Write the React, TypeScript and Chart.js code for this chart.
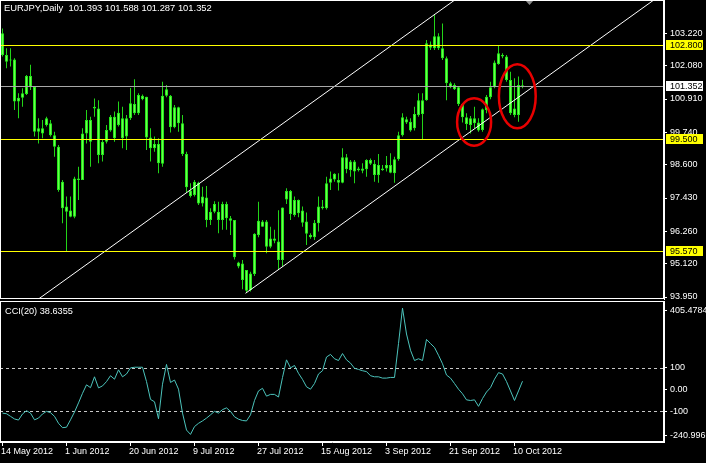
import React, { useEffect, useRef } from 'react';
import { Chart, registerables } from 'chart.js';

Chart.register(...registerables);

// ---------------- DATA ----------------
// Daily EURJPY bars, 14 May 2012 .. 12 Oct 2012 (broker with Sunday bars)
const opens = [
  103.22, 102.46, 102.26, 102.30, 100.82, 100.95, 101.09, 101.72, 101.34, 99.76,
  99.88, 100.00, 100.06, 99.64, 99.23, 98.00, 97.13, 96.99, 96.77, 98.12,
  98.06, 99.70, 100.17, 100.58, 100.58, 98.94, 99.41, 99.80, 100.29, 100.00,
  100.23, 99.59, 100.23, 100.73, 100.41, 101.02, 100.99, 99.56, 99.18, 99.33,
  98.63, 101.02, 101.02, 99.92, 100.62, 100.06, 98.98, 97.69, 97.54, 97.97,
  97.24, 97.45, 96.66, 96.95, 96.95, 96.66, 97.22, 96.72, 96.66, 95.16,
  95.13, 94.90, 94.20, 94.76, 96.13, 96.60, 96.60, 95.72, 96.01, 95.90,
  95.25, 97.38, 97.68, 96.83, 97.36, 96.99, 96.60, 96.13, 96.05, 96.54,
  97.13, 97.07, 97.97, 98.08, 98.06, 97.97, 98.86, 98.41, 98.71, 98.41,
  98.47, 98.44, 98.77, 98.63, 98.24, 98.47, 98.47, 98.59, 98.30, 98.79,
  99.64, 100.20, 100.11, 99.88, 100.35, 100.87, 100.87, 102.83, 102.69, 103.12,
  102.69, 102.34, 101.46, 101.40, 101.32, 100.73, 100.27, 100.00, 100.23, 100.08,
  99.82, 100.52, 100.97, 101.32, 102.14, 102.46, 102.40, 101.58, 100.58, 100.35,
  101.393,
];
const highs = [
  103.39, 102.69, 102.69, 102.34, 101.11, 101.29, 101.75, 102.11, 101.37, 100.23,
  100.17, 100.29, 100.17, 99.76, 99.29, 98.06, 97.48, 97.48, 98.18, 98.53,
  99.88, 100.52, 100.29, 100.93, 100.87, 99.47, 100.00, 100.35, 100.47, 100.82,
  100.64, 100.35, 101.30, 101.60, 101.11, 101.07, 100.99, 99.88, 99.59, 99.53,
  101.52, 101.40, 101.05, 100.70, 100.64, 100.35, 99.06, 97.95, 98.06, 98.00,
  97.83, 97.85, 97.07, 97.32, 97.30, 97.30, 97.30, 96.80, 96.66, 95.19,
  95.25, 94.90, 94.84, 96.19, 97.30, 96.66, 96.66, 96.42, 96.31, 97.00,
  97.10, 97.77, 97.71, 97.48, 97.38, 97.13, 96.92, 96.19, 96.66, 97.48,
  97.36, 98.18, 98.36, 98.30, 98.30, 99.18, 98.98, 98.77, 98.77, 98.53,
  98.65, 98.79, 98.82, 98.77, 98.98, 98.59, 98.91, 99.00, 98.88, 99.76,
  100.41, 100.29, 100.23, 100.64, 101.11, 101.11, 102.98, 102.93, 103.86, 103.22,
  103.56, 102.40, 101.52, 101.46, 101.37, 100.76, 100.41, 100.31, 100.64, 100.23,
  100.58, 101.05, 101.52, 102.26, 102.81, 102.52, 102.46, 101.87, 101.64, 101.70,
  101.588,
];
const lows = [
  102.40, 101.99, 102.05, 100.52, 100.23, 100.64, 101.05, 101.23, 99.59, 99.35,
  99.53, 99.94, 99.59, 98.88, 97.65, 96.54, 95.54, 96.75, 96.72, 97.36,
  98.06, 99.35, 98.53, 100.29, 98.65, 98.71, 99.35, 99.76, 99.41, 99.94,
  99.18, 99.12, 100.17, 100.35, 100.35, 100.87, 99.12, 98.71, 99.06, 98.30,
  98.53, 100.97, 99.73, 99.88, 99.76, 98.91, 97.62, 97.45, 97.48, 97.18,
  97.13, 96.40, 96.48, 96.89, 96.19, 96.31, 96.31, 96.13, 95.27, 94.96,
  94.22, 94.10, 94.14, 94.69, 96.05, 96.42, 95.49, 95.66, 95.84, 94.90,
  95.02, 97.22, 96.66, 96.77, 96.75, 96.42, 95.78, 96.00, 95.95, 96.25,
  97.03, 97.03, 97.71, 98.00, 97.69, 97.95, 98.30, 98.18, 97.95, 98.36,
  98.30, 98.18, 98.59, 98.00, 97.97, 98.39, 98.36, 98.30, 97.97, 98.74,
  99.59, 100.03, 99.76, 99.80, 100.29, 99.47, 100.85, 102.63, 102.63, 102.63,
  102.28, 100.87, 101.29, 101.23, 100.66, 100.08, 99.82, 99.70, 99.88, 99.76,
  99.76, 100.41, 100.90, 101.29, 102.11, 102.34, 101.52, 100.35, 100.27, 100.11,
  101.287,
];
const closes = [
  102.46, 102.22, 102.30, 100.82, 100.95, 101.11, 101.72, 101.32, 99.76, 99.88,
  99.70, 100.23, 99.64, 99.23, 97.71, 97.07, 96.95, 96.77, 98.12, 98.06,
  99.70, 100.17, 99.41, 100.64, 98.94, 99.41, 99.82, 100.29, 99.53, 100.43,
  99.53, 100.23, 100.76, 100.41, 101.05, 100.90, 99.56, 99.18, 99.33, 98.65,
  101.02, 101.25, 99.92, 100.62, 100.06, 98.98, 97.81, 97.50, 98.00, 97.24,
  97.48, 96.66, 96.95, 97.22, 96.66, 97.22, 96.72, 96.63, 95.35, 95.02,
  94.55, 94.17, 94.78, 96.17, 96.63, 96.42, 95.72, 96.01, 95.93, 95.25,
  97.10, 97.68, 96.87, 97.36, 96.89, 96.56, 96.17, 96.05, 96.56, 97.13,
  97.07, 97.95, 98.12, 98.28, 97.97, 98.86, 98.44, 98.71, 98.36, 98.47,
  98.39, 98.77, 98.63, 98.24, 98.59, 98.41, 98.59, 98.32, 98.79, 99.64,
  100.27, 100.08, 99.80, 100.38, 100.87, 100.38, 102.87, 102.71, 103.12, 102.69,
  102.34, 101.46, 101.32, 101.25, 100.73, 100.27, 100.03, 100.23, 100.06, 99.80,
  100.55, 100.99, 101.32, 102.19, 102.52, 102.40, 101.58, 100.41, 100.35, 101.40,
  101.352,
];
// CCI(20) value of each bar
const cciValues = [
  -108, -111, -123, -135, -140, -112, -97, -108, -139, -131,
  -112, -100, -106, -123, -155, -175, -173, -139, -103, -61,
  -17, 22, 9, 59, 8, 17, 37, 64, 48, 91,
  59, 72, 100, 103, 103, 103, 37, -45, -56, -134,
  25, 116, 33, 44, 2, -108, -186, -206, -170, -155,
  -144, -131, -116, -100, -108, -92, -84, -100, -125, -136,
  -142, -144, -116, -50, -6, 6, -30, -22, -22, -34,
  56, 137, 100, 111, 75, 47, 13, 2, 28, 72,
  87, 150, 162, 142, 134, 166, 137, 122, 98, 93,
  87, 83, 64, 59, 59, 53, 53, 56, 56, 212,
  375, 256, 181, 134, 142, 134, 231, 212, 194, 158,
  119, 67, 53, 28, 2, -19, -47, -50, -47, -77,
  -41, -11, 9, 48, 78, 72, 37, -6, -50, -6,
  38.6355,
];
const dateTickBars = [0, 16, 32, 48, 64, 80, 96, 112, 128];
const dateLabels = ['14 May 2012', '1 Jun 2012', '20 Jun 2012', '9 Jul 2012', '27 Jul 2012', '15 Aug 2012', '3 Sep 2012', '21 Sep 2012', '10 Oct 2012'];
const priceTicks = [93.95, 95.12, 96.26, 97.43, 98.6, 99.74, 100.91, 102.08, 103.22];
const priceMin = 93.88;
const priceMax = 104.39;
const levelLines = [102.8, 99.5, 95.57];
const bidPrice = 101.352;
const cciMin = -240.996;
const cciMax = 405.4784;
const cciTickValues = [-212, -100, 0, 100, 363];
const cciTickLabels = ['-240.996', '-100', '0.00', '100', '405.4784'];
const cciLevels = [100, -100];
const upperChannel = [{ x: 9, y: 93.88 }, { x: 120, y: 105.09 }];
const lowerChannel = [{ x: 60.75, y: 94.08 }, { x: 165.5, y: 104.66 }];
const ellipses = [
  { x: 117.9, y: 100.1, rx: 4.25, ry: 0.833 },
  { x: 128.7, y: 101.01, rx: 4.6, ry: 1.125 },
];
const shiftMarkerBar = 131.75;
const titleText = 'EURJPY,Daily  101.393 101.588 101.287 101.352';
const cciTitle = 'CCI(20) 38.6355';

// ---------------- STYLE ----------------
const W = 706;
const H = 463;
const MAIN_H = 300;
const CCI_H = 163;
const AXIS_W = 42;
const X_MIN = -0.625;
const X_MAX = 165.375;
const FONT = "'Liberation Sans', Arial, sans-serif";
const WICK = '#22d418';
const BODY_BORDER = '#22e61a';
const BODY_FILL = '#6cff4c';
const YELLOW = '#ffff00';

function frame(chart: any) {
  const { ctx, chartArea: a } = chart;
  ctx.save();
  ctx.strokeStyle = '#ffffff';
  ctx.lineWidth = 1;
  ctx.strokeRect(Math.floor(a.left) + 0.5, Math.floor(a.top) + 0.5, Math.round(a.right - a.left) - 1, Math.round(a.bottom - a.top) - 1);
  ctx.restore();
}

const mainPlugin = {
  id: 'mt4Main',
  afterDatasetsDraw(chart: any) {
    const { ctx, chartArea: a, scales } = chart;
    const x = scales.x;
    const y = scales.y;
    ctx.save();
    ctx.beginPath();
    ctx.rect(a.left, a.top, a.right - a.left, a.bottom - a.top);
    ctx.clip();
    ctx.setLineDash([]);
    ctx.lineWidth = 1;
    ctx.strokeStyle = '#a8a8a8';
    let py = Math.round(y.getPixelForValue(bidPrice)) + 0.5;
    ctx.beginPath();
    ctx.moveTo(a.left, py);
    ctx.lineTo(a.right, py);
    ctx.stroke();
    for (const lv of levelLines) {
      py = Math.round(y.getPixelForValue(lv));
      ctx.fillStyle = YELLOW;
      ctx.fillRect(a.left, py, a.right - a.left, 1);
    }
    ctx.strokeStyle = '#e80000';
    ctx.lineWidth = 2.5;
    for (const e of ellipses) {
      const cx = x.getPixelForValue(e.x);
      const cy = y.getPixelForValue(e.y);
      const rx = Math.abs(x.getPixelForValue(e.x + e.rx) - cx);
      const ry = Math.abs(y.getPixelForValue(e.y + e.ry) - cy);
      ctx.beginPath();
      ctx.ellipse(cx, cy, rx, ry, 0, 0, Math.PI * 2);
      ctx.stroke();
    }
    // shift marker
    const sx = x.getPixelForValue(shiftMarkerBar);
    ctx.fillStyle = '#8c8c8c';
    ctx.beginPath();
    ctx.moveTo(sx - 4.5, a.top);
    ctx.lineTo(sx + 4.5, a.top);
    ctx.lineTo(sx, a.top + 5);
    ctx.closePath();
    ctx.fill();
    ctx.restore();
  },
  afterDraw(chart: any) {
    const { ctx, chartArea: a, scales } = chart;
    const y = scales.y;
    frame(chart);
    ctx.save();
    ctx.font = `9px ${FONT}`;
    ctx.textBaseline = 'middle';
    ctx.textAlign = 'left';
    const box = (v: number, bg: string) => {
      const py = Math.round(y.getPixelForValue(v));
      ctx.fillStyle = bg;
      ctx.fillRect(a.right + 2, py - 5, 37, 10);
      ctx.fillStyle = '#000000';
      ctx.fillText(v.toFixed(3), a.right + 6, py + 0.5);
    };
    for (const lv of levelLines) box(lv, YELLOW);
    box(bidPrice, '#ffffff');
    ctx.fillStyle = '#ffffff';
    ctx.font = `9.4px ${FONT}`;
    ctx.fillText(titleText, 4, 8.5);
    ctx.restore();
  },
};

const cciPlugin = {
  id: 'mt4Cci',
  beforeDatasetsDraw(chart: any) {
    const { ctx, chartArea: a, scales } = chart;
    const y = scales.y;
    ctx.save();
    ctx.strokeStyle = '#c8c8c8';
    ctx.lineWidth = 1;
    ctx.setLineDash([3, 3]);
    for (const lv of cciLevels) {
      const py = Math.round(y.getPixelForValue(lv)) + 0.5;
      ctx.beginPath();
      ctx.moveTo(a.left, py);
      ctx.lineTo(a.right, py);
      ctx.stroke();
    }
    ctx.restore();
  },
  afterDraw(chart: any) {
    const { ctx } = chart;
    frame(chart);
    ctx.save();
    ctx.font = `9.2px ${FONT}`;
    ctx.textBaseline = 'middle';
    ctx.fillStyle = '#ffffff';
    ctx.fillText(cciTitle, 5, 11.5);
    ctx.restore();
  },
};

const tickFont = { family: FONT, size: 9 };

function mainConfig(): any {
  const idx = opens.map((_, i) => i);
  return {
    type: 'bar',
    data: {
      datasets: [
        {
          type: 'line',
          data: upperChannel,
          borderColor: '#ffffff',
          borderWidth: 1,
          pointRadius: 0,
          order: 0,
        },
        {
          type: 'line',
          data: lowerChannel,
          borderColor: '#ffffff',
          borderWidth: 1,
          pointRadius: 0,
          order: 0,
        },
        {
          type: 'bar',
          data: idx.map((i) => ({ x: i, y: [Math.min(opens[i], closes[i]), Math.max(opens[i], closes[i])] })),
          backgroundColor: BODY_FILL,
          borderColor: BODY_BORDER,
          borderWidth: 1,
          borderSkipped: false,
          barThickness: 3,
          minBarLength: 1,
          inflateAmount: 0,
          grouped: false,
          order: 1,
        },
        {
          type: 'bar',
          data: idx.map((i) => ({ x: i, y: [lows[i], highs[i]] })),
          backgroundColor: WICK,
          borderWidth: 0,
          barThickness: 1,
          inflateAmount: 0,
          grouped: false,
          order: 2,
        },
      ],
    },
    options: {
      responsive: false,
      animation: false,
      devicePixelRatio: 1,
      events: [],
      layout: { padding: { left: 0, right: 0, top: 0, bottom: 1 } },
      plugins: { legend: { display: false }, tooltip: { enabled: false } },
      scales: {
        x: { type: 'linear', min: X_MIN, max: X_MAX, display: false, offset: false, grid: { display: false } },
        y: {
          type: 'linear',
          position: 'right',
          min: priceMin,
          max: priceMax,
          afterBuildTicks: (s: any) => {
            s.ticks = priceTicks.map((v) => ({ value: v }));
          },
          afterFit: (s: any) => {
            s.width = AXIS_W;
            s.paddingTop = 0;
            s.paddingBottom = 0;
          },
          grid: { drawOnChartArea: false, drawTicks: true, tickLength: 3, tickColor: '#ffffff' },
          border: { display: true, color: '#ffffff' },
          ticks: {
            color: '#ffffff',
            font: tickFont,
            padding: 3,
            autoSkip: false,
            callback: (v: any) => Number(v).toFixed(3),
          },
        },
      },
    },
    plugins: [mainPlugin],
  };
}

function cciConfig(): any {
  return {
    type: 'line',
    data: {
      datasets: [
        {
          data: cciValues.map((v, i) => ({ x: i, y: v })),
          borderColor: '#4cc4bc',
          borderWidth: 1,
          pointRadius: 0,
          tension: 0,
        },
      ],
    },
    options: {
      responsive: false,
      animation: false,
      devicePixelRatio: 1,
      events: [],
      layout: { padding: { left: 0, right: 0, top: 1.5, bottom: 0 } },
      plugins: { legend: { display: false }, tooltip: { enabled: false } },
      scales: {
        x: {
          type: 'linear',
          position: 'bottom',
          min: X_MIN,
          max: X_MAX,
          offset: false,
          afterBuildTicks: (s: any) => {
            s.ticks = dateTickBars.map((v) => ({ value: v }));
          },
          afterFit: (s: any) => {
            s.height = 21;
            s.paddingLeft = 0;
            s.paddingRight = 0;
          },
          grid: { drawOnChartArea: false, drawTicks: true, tickLength: 4, tickColor: '#ffffff' },
          border: { display: true, color: '#ffffff' },
          ticks: {
            color: '#ffffff',
            font: tickFont,
            padding: 0,
            align: 'start',
            labelOffset: -1.5,
            maxRotation: 0,
            autoSkip: false,
            callback: (_v: any, i: number) => dateLabels[i],
          },
        },
        y: {
          type: 'linear',
          position: 'right',
          min: cciMin,
          max: cciMax,
          afterBuildTicks: (s: any) => {
            s.ticks = cciTickValues.map((v) => ({ value: v }));
          },
          afterFit: (s: any) => {
            s.width = AXIS_W;
            s.paddingTop = 0;
            s.paddingBottom = 0;
          },
          grid: { drawOnChartArea: false, drawTicks: true, tickLength: 3, tickColor: '#ffffff' },
          border: { display: true, color: '#ffffff' },
          ticks: {
            color: '#ffffff',
            font: tickFont,
            padding: 3,
            autoSkip: false,
            callback: (_v: any, i: number) => cciTickLabels[i],
          },
        },
      },
    },
    plugins: [cciPlugin],
  };
}

export default function App() {
  const mainRef = useRef<HTMLCanvasElement>(null);
  const cciRef = useRef<HTMLCanvasElement>(null);
  useEffect(() => {
    const main = new Chart(mainRef.current as HTMLCanvasElement, mainConfig());
    const cci = new Chart(cciRef.current as HTMLCanvasElement, cciConfig());
    return () => {
      main.destroy();
      cci.destroy();
    };
  }, []);
  return (
    <div style={{ position: 'fixed', left: 0, top: 0, width: W, height: H, background: '#000000', overflow: 'hidden' }}>
      <canvas ref={mainRef} width={W} height={MAIN_H} style={{ position: 'absolute', left: 0, top: 0, width: W, height: MAIN_H }} />
      <canvas ref={cciRef} width={W} height={CCI_H} style={{ position: 'absolute', left: 0, top: MAIN_H, width: W, height: CCI_H }} />
    </div>
  );
}
